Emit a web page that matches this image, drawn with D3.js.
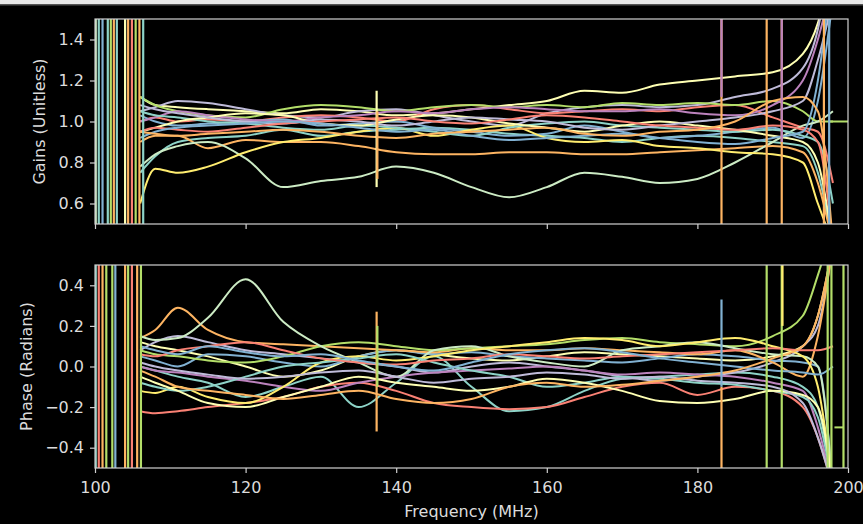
<!DOCTYPE html>
<html>
<head>
<meta charset="utf-8">
<script src="https://cdn.jsdelivr.net/npm/d3@7"></script>
<style>
  html, body { margin: 0; padding: 0; background: #000; }
  svg { display: block; }
  text { font-family: "DejaVu Sans", sans-serif; }
</style>
</head>
<body>
<div id="chart"></div>
<script>
(function() {
  var W = 863, H = 524;

  // colour cycle of the dark background style
  var palette = ["#8dd3c7", "#feffb3", "#bfbbd9", "#fa8174", "#81b1d2",
                 "#fdb462", "#b3de69", "#bc82bd", "#ccebc4", "#ffed6f"];

  // frequencies (MHz) where each series is sampled
  var freqs = [106, 108, 111, 115, 120, 125, 130, 135, 140, 145, 150,
               155, 160, 165, 170, 175, 180, 185, 190, 194, 196, 198];

  // gain solutions, one row per antenna (colour = index in palette cycle)
  var gains = [
    [0.75, 0.83, 0.90, 0.92, 0.93, 0.96, 0.93, 0.95, 0.96, 0.97, 0.96, 0.94, 0.93, 0.92, 0.90, 0.92, 0.93, 0.92, 0.90, 0.88, 0.75, 0.40],
    [1.12, 1.08, 1.07, 1.06, 1.05, 1.04, 1.06, 1.05, 1.03, 1.04, 1.06, 1.08, 1.10, 1.15, 1.14, 1.18, 1.20, 1.22, 1.24, 1.33, 1.48, 1.80],
    [1.05, 1.07, 1.10, 1.09, 1.06, 1.03, 1.02, 1.05, 1.06, 1.03, 1.00, 0.98, 1.04, 1.07, 1.08, 1.07, 1.08, 1.12, 1.16, 1.26, 1.45, 1.90],
    [1.00, 1.02, 1.00, 1.01, 1.00, 1.02, 1.03, 1.02, 1.00, 1.06, 1.08, 1.06, 1.04, 1.05, 1.06, 1.05, 1.07, 1.08, 1.02, 0.97, 0.95, 0.70],
    [1.03, 1.00, 0.98, 0.99, 1.00, 1.01, 0.98, 0.99, 1.00, 0.97, 0.95, 0.93, 0.94, 0.98, 0.95, 0.92, 0.93, 0.95, 0.97, 0.92, 1.10, 1.60],
    [0.90, 0.93, 0.93, 0.87, 0.91, 0.90, 0.90, 0.88, 0.85, 0.84, 0.84, 0.85, 0.85, 0.84, 0.84, 0.85, 0.86, 0.87, 0.88, 0.85, 0.70, 0.40],
    [1.12, 1.08, 1.05, 1.03, 1.02, 1.06, 1.08, 1.07, 1.05, 1.07, 1.08, 1.07, 1.08, 1.07, 1.09, 1.08, 1.09, 1.08, 1.10, 1.05, 1.00, 1.00],
    [1.00, 1.02, 1.05, 1.03, 1.01, 1.00, 1.02, 1.03, 1.05, 1.04, 1.06, 1.07, 1.06, 1.05, 1.05, 1.06, 1.04, 1.03, 1.08, 1.20, 1.40, 1.70],
    [0.78, 0.84, 0.88, 0.90, 0.82, 0.68, 0.71, 0.73, 0.78, 0.75, 0.68, 0.63, 0.68, 0.75, 0.73, 0.70, 0.72, 0.80, 0.90, 0.98, 1.00, 1.05],
    [0.60, 0.77, 0.75, 0.78, 0.85, 0.90, 0.92, 0.95, 0.97, 0.93, 0.96, 0.98, 0.92, 0.90, 0.91, 0.88, 0.87, 0.85, 0.84, 0.80, 0.60, 0.40],
    [1.05, 1.03, 1.02, 1.00, 0.99, 0.97, 0.96, 0.98, 0.97, 0.95, 0.93, 0.97, 0.99, 1.00, 0.98, 0.97, 0.96, 0.95, 0.96, 0.93, 0.90, 0.60],
    [0.95, 0.97, 1.00, 1.02, 1.04, 1.03, 0.99, 0.98, 1.01, 1.03, 1.02, 0.99, 0.97, 0.95, 0.98, 1.00, 0.98, 0.96, 0.93, 0.90, 0.80, 0.40],
    [1.08, 1.06, 1.04, 1.02, 1.00, 0.99, 1.01, 1.00, 0.98, 1.00, 1.02, 1.01, 1.00, 0.97, 0.96, 0.98, 1.00, 1.02, 1.05, 1.10, 1.30, 1.60],
    [0.95, 0.97, 0.96, 0.95, 0.97, 0.99, 1.00, 1.01, 1.02, 1.00, 0.99, 1.01, 1.03, 1.02, 1.00, 0.98, 0.97, 0.96, 0.98, 0.96, 0.90, 0.40],
    [0.92, 0.95, 0.97, 0.98, 0.99, 1.00, 0.99, 0.97, 0.95, 0.96, 0.93, 0.91, 0.92, 0.93, 0.94, 0.92, 0.90, 0.89, 0.92, 0.95, 1.20, 1.80],
    [0.95, 0.94, 0.93, 0.94, 0.95, 0.96, 0.95, 0.93, 0.92, 0.94, 0.95, 0.96, 0.97, 0.94, 0.93, 0.95, 0.96, 1.00, 1.10, 1.12, 1.05, 0.40]
  ];

  // phase solutions (radians), same antennas
  var phases = [
    [0.00, -0.02, -0.05, -0.08, -0.15, -0.10, -0.05, -0.20, -0.08, 0.05, -0.10, -0.22, -0.20, -0.12, -0.06, -0.05, -0.04, -0.03, -0.05, -0.10, -0.20, -0.60],
    [0.12, 0.10, 0.08, 0.05, 0.00, -0.05, -0.02, 0.05, 0.08, 0.06, 0.04, 0.03, 0.05, 0.07, 0.06, 0.05, 0.04, 0.03, 0.05, 0.10, 0.25, 0.60],
    [0.08, 0.12, 0.15, 0.12, 0.08, 0.06, 0.04, 0.02, 0.00, -0.03, 0.00, 0.02, 0.00, -0.02, -0.05, -0.07, -0.05, -0.03, 0.02, 0.10, 0.20, 0.60],
    [-0.22, -0.23, -0.22, -0.20, -0.18, -0.15, -0.10, -0.08, -0.12, -0.18, -0.20, -0.21, -0.20, -0.15, -0.10, -0.08, -0.14, -0.10, -0.12, -0.20, -0.35, -0.60],
    [0.05, 0.03, 0.00, 0.06, 0.05, 0.02, 0.00, 0.05, 0.08, 0.06, 0.07, 0.05, 0.04, 0.03, 0.02, 0.04, 0.06, 0.05, 0.03, 0.02, 0.00, -0.60],
    [0.14, 0.18, 0.29, 0.18, 0.12, 0.11, 0.10, 0.09, 0.08, 0.07, 0.09, 0.08, 0.08, 0.09, 0.08, 0.07, 0.06, 0.08, 0.02, -0.05, 0.15, 0.60],
    [0.08, 0.06, 0.05, 0.03, 0.02, 0.05, 0.10, 0.12, 0.10, 0.08, 0.09, 0.10, 0.11, 0.13, 0.14, 0.12, 0.11, 0.10, 0.15, 0.25, 0.45, 0.70],
    [0.00, -0.02, -0.03, -0.05, -0.07, -0.10, -0.12, -0.08, -0.05, -0.03, -0.02, -0.01, 0.00, -0.02, -0.04, -0.03, -0.04, -0.05, -0.08, -0.12, -0.30, -0.60],
    [0.15, 0.13, 0.14, 0.24, 0.43, 0.22, 0.10, 0.02, -0.05, 0.08, 0.10, 0.05, 0.02, 0.00, 0.08, 0.10, 0.12, 0.09, 0.06, 0.05, 0.00, -0.60],
    [-0.12, -0.13, -0.10, -0.15, -0.18, -0.10, 0.02, 0.05, 0.03, 0.05, 0.08, 0.10, 0.12, 0.14, 0.13, 0.10, 0.12, 0.14, 0.10, 0.05, -0.10, -0.60],
    [-0.08, -0.10, -0.12, -0.10, -0.05, 0.00, 0.02, 0.04, 0.06, 0.02, -0.02, -0.05, -0.10, -0.08, -0.05, -0.06, -0.08, -0.09, -0.12, -0.15, -0.25, -0.60],
    [-0.05, -0.08, -0.12, -0.18, -0.20, -0.15, -0.10, -0.05, -0.08, -0.10, -0.12, -0.10, -0.06, -0.08, -0.12, -0.17, -0.18, -0.16, -0.12, -0.14, -0.20, -0.60],
    [0.02, 0.00, -0.02, -0.04, -0.06, -0.05, -0.03, -0.02, -0.05, -0.08, -0.06, -0.05, -0.03, -0.04, -0.06, -0.05, -0.07, -0.08, -0.10, -0.18, -0.35, -0.60],
    [0.06, 0.05, 0.08, 0.10, 0.12, 0.08, 0.04, 0.02, 0.01, 0.03, 0.04, 0.06, 0.05, 0.04, 0.05, 0.06, 0.07, 0.08, 0.09, 0.08, 0.08, 0.10],
    [0.10, 0.08, 0.06, 0.10, 0.07, 0.05, 0.06, 0.03, 0.00, -0.02, 0.02, 0.06, 0.08, 0.09, 0.07, 0.04, 0.02, 0.00, -0.02, -0.03, -0.04, 0.00],
    [-0.02, -0.05, -0.10, -0.12, -0.14, -0.16, -0.14, -0.12, -0.16, -0.18, -0.16, -0.10, -0.08, -0.10, -0.09, -0.07, -0.05, -0.02, 0.04, 0.10, 0.25, 0.60]
  ];

  // flagged / noisy channels at the band edges: [freq, colour index]
  var flagsTop = [[100.1, 8], [100.5, 0], [101.0, 4], [101.7, 0], [102.1, 6], [102.5, 5],
                  [102.9, 0], [104.0, 1], [104.4, 5], [104.9, 3], [105.4, 6], [105.9, 5], [106.4, 0]];
  var flagsBottom = [[100.1, 0], [100.5, 3], [101.0, 5], [101.5, 6], [102.3, 6], [102.7, 4],
                     [104.0, 5], [104.4, 6], [104.9, 3], [105.6, 5], [106.1, 6], [199.4, 6]];

  // RFI spikes: [freq, low, high, colour index]
  var spikesTop = [[137.4, 0.68, 1.15, 1], [137.5, 0.72, 1.05, 5], [183.2, 0.5, 1.5, 5],
                   [183.2, 1.12, 1.5, 7], [189.2, 0.5, 1.5, 5], [191.2, 0.5, 1.5, 5],
                   [191.2, 0.9, 1.5, 7], [196.8, 0.5, 1.5, 5], [197.5, 0.5, 1.5, 4]];
  var spikesBottom = [[137.4, -0.32, 0.27, 5], [137.5, -0.1, 0.2, 6], [183.2, -0.5, -0.1, 5],
                      [183.2, -0.1, 0.33, 4], [189.2, -0.5, 0.5, 6], [191.2, -0.5, 0.5, 6],
                      [191.3, 0.2, 0.5, 9], [197.3, -0.5, 0.5, 6], [197.8, -0.5, 0.5, 6]];

  // flat tail past the upper band edge: [freq, value, colour index]
  var tailTop = [[197.6, 1.0, 6], [200, 1.0, 6]];
  var tailBottom = [[198.2, -0.3, 6], [199.4, -0.3, 6]];

  var xTicks = [100, 120, 140, 160, 180, 200];
  var gainTicks = [0.6, 0.8, 1.0, 1.2, 1.4];
  var phaseTicks = [-0.4, -0.2, 0.0, 0.2, 0.4];

  var left = 95, right = 848;

  var svg = d3.select("#chart").append("svg").attr("width", W).attr("height", H);
  svg.append("rect").attr("width", W).attr("height", H).attr("fill", "#000");
  svg.append("rect").attr("width", W).attr("height", 4).attr("fill", "#e8e8e8");
  svg.append("rect").attr("y", 4).attr("width", W).attr("height", 1.5).attr("fill", "#555");

  var x = d3.scaleLinear().domain([100, 200]).range([left, right]);

  var panel = function(id, top, bottom, domain, series, flags, spikes, tail, yTicks, fmt, label, labelX, showX) {
    var y, g, clip, line, axisCol = "#d0d0d0";
    y = d3.scaleLinear().domain(domain).range([bottom, top]);
    g = svg.append("g");
    svg.append("clipPath").attr("id", id).append("rect")
      .attr("x", left).attr("y", top).attr("width", right - left).attr("height", bottom - top);
    clip = g.append("g").attr("clip-path", "url(#" + id + ")");

    line = d3.line().x(function(d, i) { return x(freqs[i]); })
      .y(function(d) { return y(d); }).curve(d3.curveMonotoneX);

    clip.selectAll("path.s").data(series).enter().append("path")
      .attr("class", "s").attr("d", line).attr("fill", "none")
      .attr("stroke", function(d, i) { return palette[i % palette.length]; })
      .attr("stroke-width", 2);

    clip.append("path")
      .attr("d", d3.line().x(function(d) { return x(d[0]); }).y(function(d) { return y(d[1]); })(tail))
      .attr("fill", "none").attr("stroke", palette[tail[0][2]]).attr("stroke-width", 2);

    clip.selectAll("line.f").data(flags).enter().append("line")
      .attr("class", "f")
      .attr("x1", function(d) { return x(d[0]); }).attr("x2", function(d) { return x(d[0]); })
      .attr("y1", top).attr("y2", bottom)
      .attr("stroke", function(d) { return palette[d[1]]; }).attr("stroke-width", 2.2);

    clip.selectAll("line.k").data(spikes).enter().append("line")
      .attr("class", "k")
      .attr("x1", function(d) { return x(d[0]); }).attr("x2", function(d) { return x(d[0]); })
      .attr("y1", function(d) { return y(d[1]); }).attr("y2", function(d) { return y(d[2]); })
      .attr("stroke", function(d) { return palette[d[3]]; }).attr("stroke-width", 2.2);

    g.append("rect").attr("x", left).attr("y", top).attr("width", right - left).attr("height", bottom - top)
      .attr("fill", "none").attr("stroke", axisCol).attr("stroke-width", 1.2);

    var ya = g.append("g").attr("transform", "translate(" + left + ",0)")
      .call(d3.axisLeft(y).tickValues(yTicks).tickSize(5).tickPadding(6).tickFormat(fmt));
    var xa = g.append("g").attr("transform", "translate(0," + bottom + ")")
      .call(d3.axisBottom(x).tickValues(xTicks).tickSize(5).tickPadding(9)
        .tickFormat(showX ? d3.format("d") : ""));
    [ya, xa].forEach(function(a) {
      a.select(".domain").remove();
      a.selectAll("line").attr("stroke", axisCol).attr("stroke-width", 1.2);
      a.selectAll("text").attr("fill", "#dcdcdc").attr("font-size", 16)
        .attr("font-family", "DejaVu Sans, sans-serif");
    });

    g.append("text").attr("transform", "translate(" + labelX + "," + ((top + bottom) / 2) + ") rotate(-90)")
      .attr("text-anchor", "middle").attr("fill", "#dcdcdc").attr("font-size", 16).text(label);
  };

  var minus = function(v) { return d3.format(".1f")(v).replace("-", "\u2212"); };

  panel("clipTop", 19, 224, [0.5, 1.5], gains, flagsTop, spikesTop, tailTop, gainTicks, d3.format(".1f"),
        "Gains (Unitless)", 45, false);
  panel("clipBottom", 265, 468, [-0.5, 0.5], phases, flagsBottom, spikesBottom, tailBottom, phaseTicks, minus,
        "Phase (Radians)", 32, true);

  svg.append("text").attr("x", (left + right) / 2).attr("y", 517).attr("text-anchor", "middle")
    .attr("fill", "#dcdcdc").attr("font-size", 16).text("Frequency (MHz)");
}).call(this);
</script>
</body>
</html>
